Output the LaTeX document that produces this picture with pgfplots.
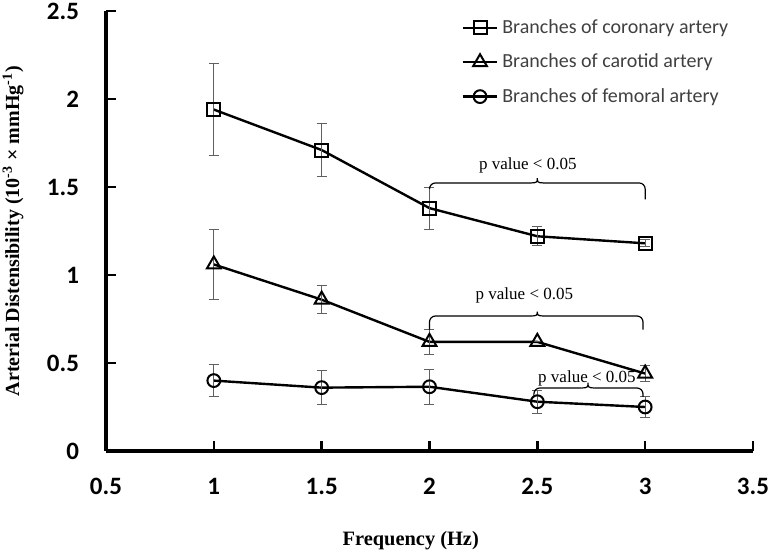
\documentclass[border=0pt]{standalone}
\usepackage{fontspec}
\setmainfont{Liberation Serif}
\newfontfamily\carlito{Carlito}
\usepackage{pgfplots}
\pgfplotsset{compat=1.18}
\definecolor{errgray}{HTML}{606060}
\definecolor{leggray}{HTML}{404040}
\begin{document}
\begin{tikzpicture}
\begin{axis}[
  at={(0,0)}, anchor=south west,
  scale only axis, width=323.5pt, height=220pt,
  xmin=0.5, xmax=3.5, ymin=0, ymax=2.5,
  axis lines=left, axis line style={line width=1.6pt, -},
  xtick={0.5,1,1.5,2,2.5,3,3.5}, ytick={0,0.5,1,1.5,2,2.5},
  tick style={line width=1.2pt, black}, major tick length=5pt, tick align=inside,
  ticklabel style={font=\carlito\bfseries\fontsize{12.5}{14}\selectfont},
  /pgf/number format/assume math mode=true,
  xticklabel style={yshift=-10pt},
  yticklabel style={xshift=-10pt},
  xlabel={\textbf{Frequency (Hz)}},
  xlabel style={font=\fontsize{10.2}{12}\selectfont, at={(axis description cs:0.471,0)}, anchor=center, yshift=-45pt},
  ylabel={\textbf{Arterial Distensibility (10\textsuperscript{-3} × mmHg\textsuperscript{-1})}},
  ylabel style={font=\fontsize{10}{12}\selectfont, at={(axis description cs:-0.1437,0.5)}, anchor=center},
  legend style={at={(0.540,1.0)}, anchor=north west, draw=none, fill=none,
    font=\carlito\fontsize{10}{12}\selectfont, text=leggray, row sep=4.75pt},
  legend cell align=left,
  clip=false,
]
\addplot[black, line width=1.2pt, mark=square, mark size=3.25pt,
  mark options={line width=1pt, solid, fill=none},
  error bars/.cd, y dir=both, y explicit,
  error bar style={errgray, line width=0.5pt},
  error mark options={rotate=90, mark size=2.5pt, errgray, line width=0.5pt}]
coordinates {
 (1,1.94) +- (0,0.26)
 (1.5,1.71) +- (0,0.15)
 (2,1.38) +- (0,0.12)
 (2.5,1.22) +- (0,0.055)
 (3,1.18) +- (0,0.02)
};
\addlegendentry{Branches of coronary artery}
\addplot[black, line width=1.2pt, mark=triangle, mark size=4pt,
  mark options={line width=1pt, solid, fill=none},
  error bars/.cd, y dir=both, y explicit,
  error bar style={errgray, line width=0.5pt},
  error mark options={rotate=90, mark size=2.5pt, errgray, line width=0.5pt}]
coordinates {
 (1,1.06) +- (0,0.2)
 (1.5,0.86) +- (0,0.08)
 (2,0.62) +- (0,0.07)
 (2.5,0.62) +- (0,0.0)
 (3,0.44) +- (0,0.045)
};
\addlegendentry{Branches of carotid artery}
\addplot[black, line width=1.2pt, mark=o, mark size=3.2pt,
  mark options={line width=1pt, solid, fill=none},
  error bars/.cd, y dir=both, y explicit,
  error bar style={errgray, line width=0.5pt},
  error mark options={rotate=90, mark size=2.5pt, errgray, line width=0.5pt}]
coordinates {
 (1,0.40) +- (0,0.09)
 (1.5,0.36) +- (0,0.095)
 (2,0.365) +- (0,0.1)
 (2.5,0.28) +- (0,0.065)
 (3,0.25) +- (0,0.06)
};
\addlegendentry{Branches of femoral artery}

% braces (annotations)
\draw[line width=0.6pt, rounded corners=3pt] (axis cs:2,1.49) -- (axis cs:2,1.523) -- (axis cs:2.47,1.523);
\draw[line width=0.6pt] (axis cs:2.47,1.523) .. controls (axis cs:2.5,1.523) and (axis cs:2.5,1.53) .. (axis cs:2.5,1.55) .. controls (axis cs:2.5,1.53) and (axis cs:2.5,1.523) .. (axis cs:2.53,1.523);
\draw[line width=0.6pt, rounded corners=3pt] (axis cs:2.53,1.523) -- (axis cs:3,1.523) -- (axis cs:3,1.43);
\node[font=\fontsize{8.5}{10}\selectfont] at (axis cs:2.456,1.625) {p value < 0.05};

\draw[line width=0.6pt, rounded corners=3pt] (axis cs:2,0.69) -- (axis cs:2,0.767) -- (axis cs:2.47,0.767);
\draw[line width=0.6pt] (axis cs:2.47,0.767) .. controls (axis cs:2.5,0.767) and (axis cs:2.5,0.774) .. (axis cs:2.5,0.792) .. controls (axis cs:2.5,0.774) and (axis cs:2.5,0.767) .. (axis cs:2.53,0.767);
\draw[line width=0.6pt, rounded corners=3pt] (axis cs:2.53,0.767) -- (axis cs:2.99,0.767) -- (axis cs:2.99,0.69);
\node[font=\fontsize{8.5}{10}\selectfont] at (axis cs:2.44,0.886) {p value < 0.05};

\draw[line width=0.6pt, rounded corners=3pt] (axis cs:2.484,0.307) -- (axis cs:2.484,0.358) -- (axis cs:2.705,0.358);
\draw[line width=0.6pt] (axis cs:2.705,0.358) .. controls (axis cs:2.735,0.358) and (axis cs:2.735,0.365) .. (axis cs:2.735,0.388) .. controls (axis cs:2.735,0.365) and (axis cs:2.735,0.358) .. (axis cs:2.765,0.358);
\draw[line width=0.6pt, rounded corners=3pt] (axis cs:2.765,0.358) -- (axis cs:2.99,0.358) -- (axis cs:2.99,0.307);
\node[font=\fontsize{8.5}{10}\selectfont] at (axis cs:2.73,0.415) {p value < 0.05};
\end{axis}
\pgfresetboundingbox
\path (-53pt,-53pt) rectangle (333pt,225.5pt);
\end{tikzpicture}
\end{document}
